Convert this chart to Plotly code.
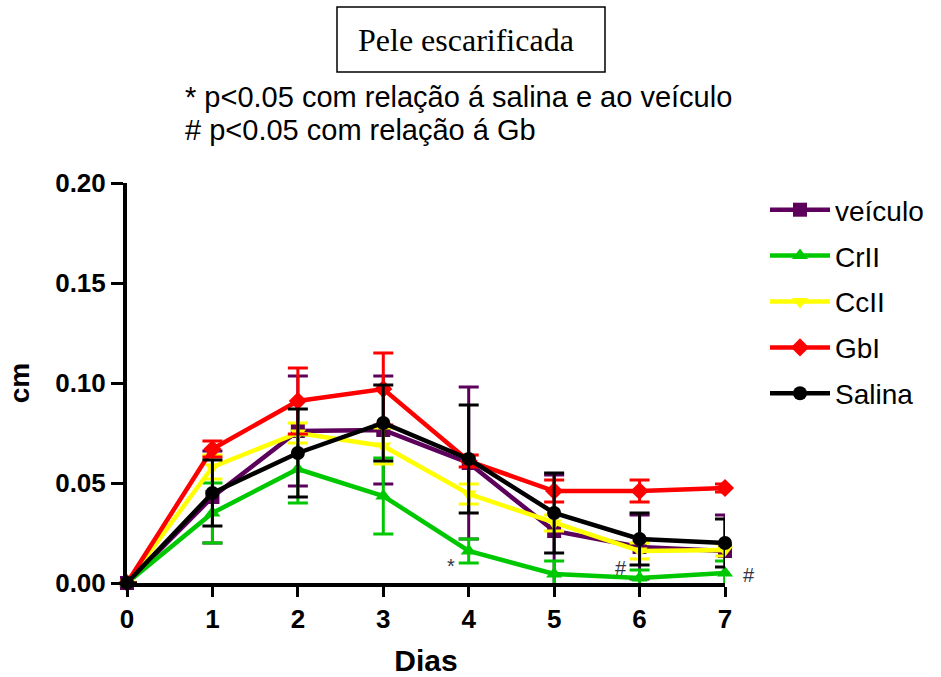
import plotly.graph_objects as go

dias = [0, 1, 2, 3, 4, 5, 6, 7]

veiculo = [0, 0.043, 0.076, 0.0765, 0.060, 0.026, 0.018, 0.016]
veiculo_err = [0, 0.023, 0.0275, 0.027, 0.038, 0.028, 0.016, 0.018]

crii = [0, 0.035, 0.057, 0.0435, 0.016, 0.0045, 0.0025, 0.005]
crii_err = [0, 0.015, 0.017, 0.019, 0.006, 0.0065, 0.004, 0.006]

ccii = [0, 0.058, 0.075, 0.0685, 0.0445, 0.030, 0.016, 0.0165]
ccii_err = [0, 0.006, 0.005, 0.009, 0.005, 0.004, 0.004, 0.003]

gbi = [0, 0.067, 0.091, 0.097, 0.061, 0.046, 0.046, 0.0475]
gbi_err = [0, 0.004, 0.0165, 0.018, 0.003, 0.0055, 0.0055, 0.002]

salina = [0, 0.045, 0.065, 0.080, 0.062, 0.035, 0.022, 0.020]
salina_err = [0, 0.0165, 0.022, 0.019, 0.027, 0.020, 0.013, 0.012]

series = [
    ("veículo", veiculo, veiculo_err, "#5c005c", "square"),
    ("CrII", crii, crii_err, "#00c800", "triangle-up"),
    ("CcII", ccii, ccii_err, "#ffff00", "triangle-down"),
    ("GbI", gbi, gbi_err, "#ff0000", "diamond"),
    ("Salina", salina, salina_err, "#000000", "circle"),
]

# significance marks (x in days, y in cm)
marks_text = ["*", "#", "#"]
marks_x = [3.79, 5.78, 7.28]
marks_y = [0.0085, 0.0075, 0.004]

X_RANGE = [0, 7]
Y_RANGE = [0, 0.2]

W, H = 941, 677
L, R, T, B = 127, 216, 183, 94
PW, PH = W - L - R, H - T - B


def px(x):
    return (x - L) / PW


def py(y):
    return (H - B - y) / PH


fig = go.Figure()
for name, vals, errs, color, sym in series:
    fig.add_trace(go.Scatter(
        x=dias, y=vals, name=name, mode="lines+markers", legendgroup=name,
        line=dict(color=color, width=4.5),
        marker=dict(symbol=sym, size=14, color=color),
        error_y=dict(type="data", array=errs, visible=True, color=color,
                     thickness=3, width=10),
        cliponaxis=False,
    ))

for t, x, y in zip(marks_text, marks_x, marks_y):
    fig.add_annotation(xref="paper", yref="paper",
                       x=(x - X_RANGE[0]) / (X_RANGE[1] - X_RANGE[0]),
                       y=(y - Y_RANGE[0]) / (Y_RANGE[1] - Y_RANGE[0]),
                       xanchor="center", yanchor="middle",
                       text=t, showarrow=False,
                       font=dict(family="Liberation Sans, Arial", size=20, color="#333344"))

fig.add_shape(type="rect", xref="paper", yref="paper", layer="below",
              x0=px(337), x1=px(605), y0=py(72), y1=py(7),
              line=dict(color="black", width=1.5), fillcolor="white")
fig.add_annotation(xref="paper", yref="paper", x=px(466), y=py(40),
                   xanchor="center", yanchor="middle",
                   text="Pele escarificada", showarrow=False,
                   font=dict(family="Liberation Serif, Times New Roman", size=32, color="black"))
fig.add_annotation(xref="paper", yref="paper", x=px(183), y=py(97),
                   xanchor="left", yanchor="middle",
                   text="* p<0.05 com relação á salina e ao veículo",
                   showarrow=False,
                   font=dict(family="Liberation Sans, Arial", size=29, color="black"))
fig.add_annotation(xref="paper", yref="paper", x=px(183), y=py(130),
                   xanchor="left", yanchor="middle",
                   text="# p<0.05 com relação á Gb",
                   showarrow=False,
                   font=dict(family="Liberation Sans, Arial", size=29, color="black"))

fig.update_layout(
    width=W, height=H,
    margin=dict(l=L, r=R, t=T, b=B, autoexpand=False),
    plot_bgcolor="white", paper_bgcolor="white",
    showlegend=True,
    legend=dict(x=px(765), y=py(185), xanchor="left", yanchor="top",
                font=dict(family="Liberation Sans, Arial", size=28, color="black"),
                itemwidth=60, bgcolor="rgba(0,0,0,0)", tracegroupgap=6.5),
    xaxis=dict(range=X_RANGE, tickvals=dias, ticktext=[str(d) for d in dias],
               showgrid=False, zeroline=False, showline=True, linecolor="black",
               linewidth=4, ticks="outside", ticklen=10, tickwidth=3, tickcolor="black",
               tickfont=dict(family="Liberation Sans, Arial", size=26, color="black", weight="bold"),
               title=dict(text="<b>Dias</b>", font=dict(family="Liberation Sans, Arial", size=30, color="black"),
                          standoff=20)),
    yaxis=dict(range=Y_RANGE, tickvals=[0, 0.05, 0.10, 0.15, 0.20],
               ticktext=["0.00", "0.05", "0.10", "0.15", "0.20"],
               showgrid=False, zeroline=False, showline=True, linecolor="black",
               linewidth=4, ticks="outside", ticklen=12, tickwidth=3, tickcolor="black",
               tickfont=dict(family="Liberation Sans, Arial", size=26, color="black", weight="bold"),
               title=dict(text="<b>cm</b>", font=dict(family="Liberation Sans, Arial", size=28, color="black"),
                          standoff=18)),
)

fig.write_html("out.html")
